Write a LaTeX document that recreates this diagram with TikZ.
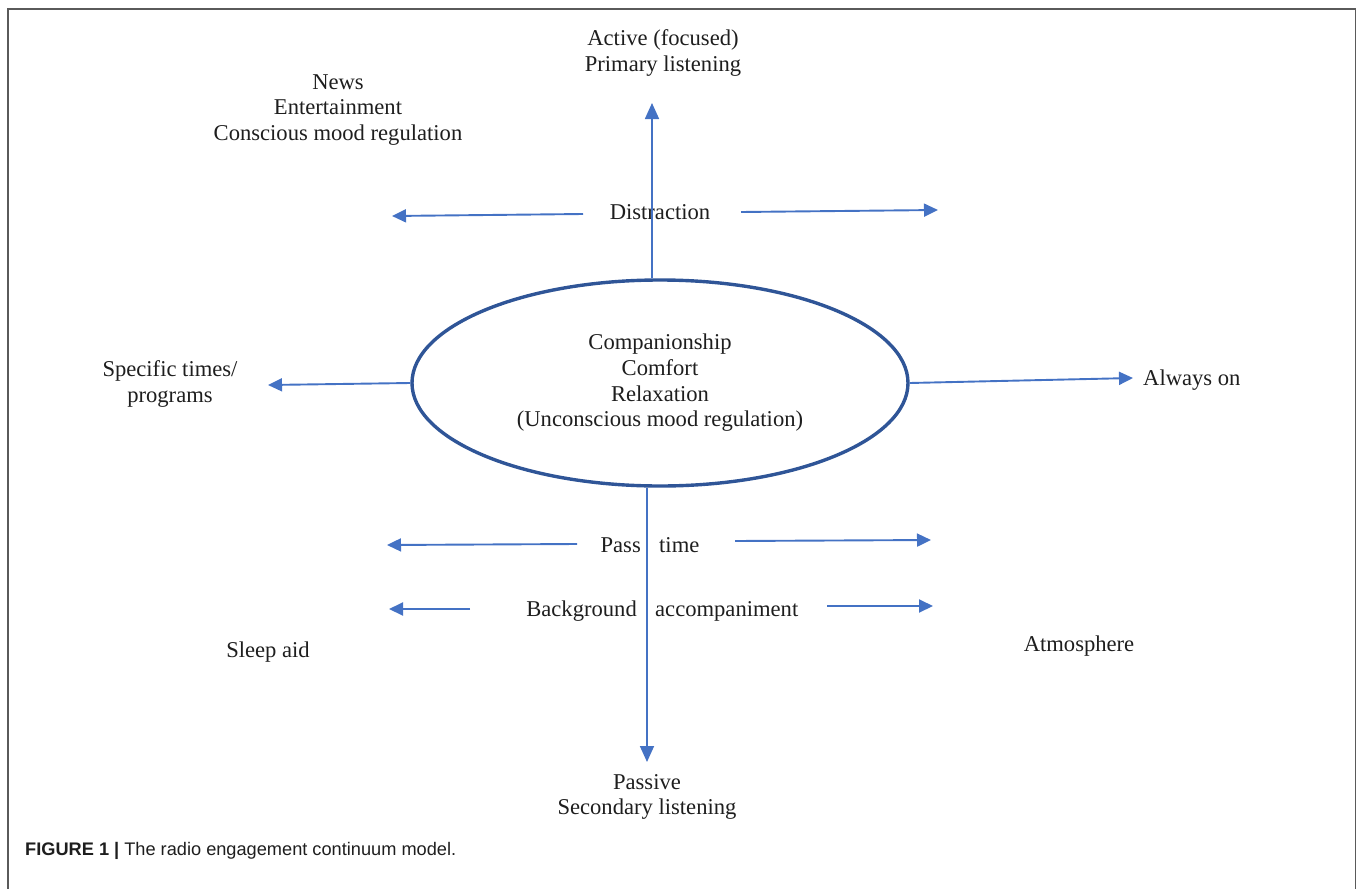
\documentclass[tikz,border=0pt]{standalone}
\usepackage{fontspec}
\setmainfont{Liberation Serif}
\newfontfamily\capfont{Liberation Sans}
\usetikzlibrary{shapes.geometric,arrows.meta}
\definecolor{arrblue}{RGB}{68,114,196}
\definecolor{ellblue}{RGB}{47,85,151}
\definecolor{framegray}{RGB}{90,90,90}
\definecolor{txt}{RGB}{30,30,30}
\begin{document}
\begin{tikzpicture}[x=1pt,y=-1pt,
  lbl/.style={font=\fontsize{22.6}{25.7}\selectfont, text=txt, inner sep=0pt, align=center},
  arr/.style={draw=arrblue, line width=1.9pt, -{Triangle[length=14pt,width=13pt]}},
  axis/.style={draw=arrblue, line width=1.7pt, -{Triangle[length=16pt,width=14pt]}},
  oval/.style={ellipse, draw=ellblue, line width=3.4pt, minimum width=496pt, minimum height=206pt}]
\useasboundingbox (0,0) rectangle (1358,889);
\draw[framegray, line width=1.5pt] (8,889) -- (8,9) -- (1355.5,9) -- (1355.5,889);

% texts
\node[lbl] (news) at (338,110) {News\\Entertainment\\Conscious mood regulation};
\node[lbl] (active) at (663,53) {Active (focused)\\Primary listening};
\node[lbl] (dist) at (660,212) {Distraction};
\node[lbl] (spec) at (170,384) {Specific times/\\programs};
\node[lbl, anchor=west] (always) at (1143,380) {Always on};
\node[lbl, anchor=east] (pass) at (641,545) {Pass};
\node[lbl, anchor=west] (time) at (659,545) {time};
\node[lbl, anchor=east] (bg) at (637,611) {Background};
\node[lbl, anchor=west] (acc) at (655,611) {accompaniment};
\node[lbl] (sleep) at (268,652) {Sleep aid};
\node[lbl] (atm) at (1079,646) {Atmosphere};
\node[lbl] (passive) at (647,797) {Passive\\Secondary listening};
\node[oval, lbl] (ell) at (660,383) {Companionship\\Comfort\\Relaxation\\(Unconscious mood regulation)};

% arrow ends
\coordinate (upTip) at (652,103);
\coordinate (dnTip) at (647,762);
\coordinate (lTip) at (268,385);
\coordinate (rTip) at (1133,378);
\coordinate (dL0) at (583,214); \coordinate (dL1) at (392,216);
\coordinate (dR0) at (741,212); \coordinate (dR1) at (938,210);
\coordinate (pL0) at (577,544); \coordinate (pL1) at (387,545);
\coordinate (pR0) at (735,541); \coordinate (pR1) at (931,540);
\coordinate (bL0) at (470,609); \coordinate (bL1) at (389,609);
\coordinate (bR0) at (827,606); \coordinate (bR1) at (933,606);

% axes
\draw[axis] (upTip |- ell.north) -- (upTip);
\draw[axis] (dnTip |- ell.south) -- (dnTip);
\draw[arr] (ell.west) -- (lTip);
\draw[arr] (ell.east) -- (rTip);
\draw[arr] (dL0) -- (dL1);
\draw[arr] (dR0) -- (dR1);
\draw[arr] (pL0) -- (pL1);
\draw[arr] (pR0) -- (pR1);
\draw[arr] (bL0) -- (bL1);
\draw[arr] (bR0) -- (bR1);

% caption
\node[anchor=base west, inner sep=0pt, text=txt, font=\capfont\fontsize{18.2}{20}\selectfont] (cap) at (25,855) {\textbf{FIGURE 1 |} The radio engagement continuum model.};
\end{tikzpicture}
\end{document}
